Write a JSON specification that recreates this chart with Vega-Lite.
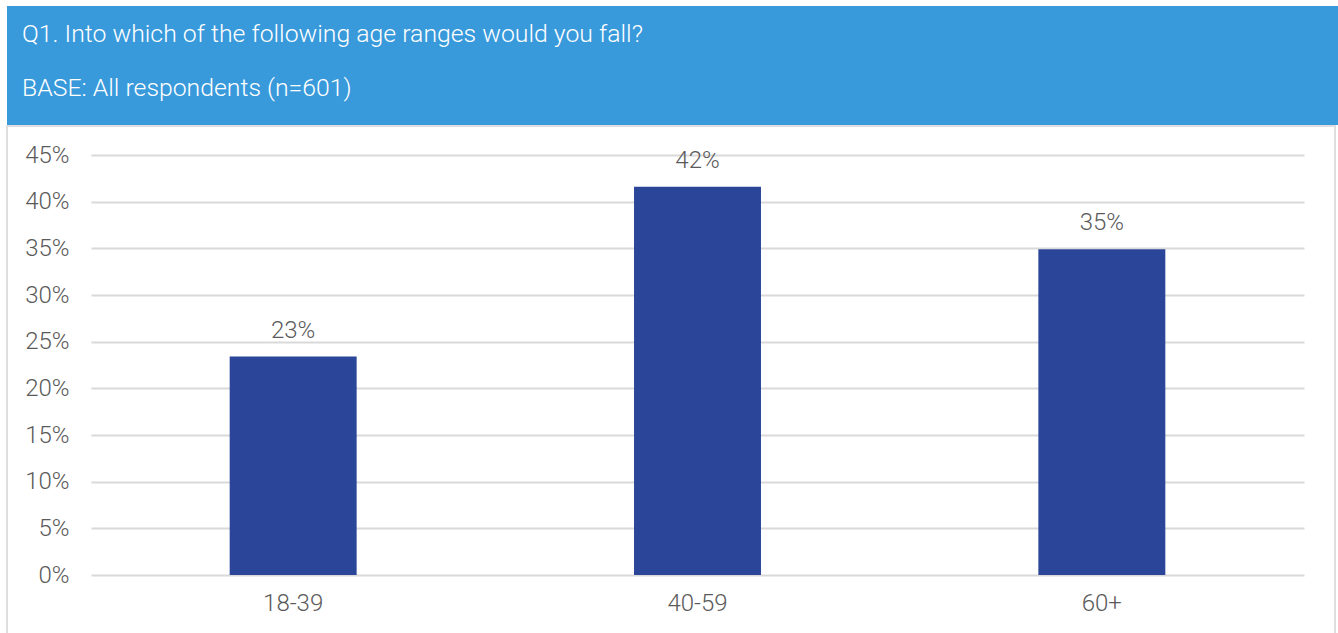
{
  "$schema": "https://vega.github.io/schema/vega-lite/v6.json",
  "background": "white",
  "padding": {"left": 6, "top": 6, "right": 0, "bottom": 0},
  "spacing": 0,
  "config": {
    "font": "Roboto",
    "view": {"stroke": null}
  },
  "vconcat": [
    {
      "width": 1332,
      "height": 119,
      "view": {"fill": "#3899DB", "stroke": null},
      "data": {"values": [
        {"line": 1, "label": "Q1. Into which of the following age ranges would you fall?"},
        {"line": 2, "label": "BASE: All respondents (n=601)"}
      ]},
      "mark": {"type": "text", "align": "left", "baseline": "alphabetic", "dx": 15, "font": "Roboto", "fontSize": 24.8, "fontWeight": 300, "color": "white"},
      "encoding": {
        "x": {"datum": 0, "type": "quantitative", "scale": {"domain": [0, 1]}, "axis": null},
        "y": {"field": "line", "type": "ordinal", "axis": null, "scale": {"type": "point", "padding": 0, "range": [36, 90]}},
        "text": {"field": "label"}
      }
    },
    {
      "width": 1328,
      "height": 508,
      "view": {"fill": "white", "stroke": "#dedede", "strokeWidth": 2},
      "data": {"values": [
        {"age": "18-39", "pct": 0.234},
        {"age": "40-59", "pct": 0.416},
        {"age": "60+", "pct": 0.349}
      ]},
      "encoding": {
        "x": {
          "field": "age", "type": "nominal", "sort": null,
          "scale": {"range": [84, 1297], "paddingInner": 0.686, "paddingOuter": 0.343},
          "axis": {"title": null, "orient": "bottom", "offset": -59, "labelAngle": 0, "domain": false, "ticks": false, "grid": false,
                   "labelFontSize": 24, "labelFontWeight": 300, "labelColor": "#5a5a5a", "labelPadding": 16, "labelFont": "Roboto"}
        },
        "y": {
          "field": "pct", "type": "quantitative",
          "scale": {"domain": [0, 0.45], "range": [449, 29]},
          "axis": {"title": null, "orient": "left", "offset": -84, "format": ".0%", "values": [0, 0.05, 0.1, 0.15, 0.2, 0.25, 0.3, 0.35, 0.4, 0.45],
                   "domain": false, "ticks": false, "grid": true, "gridColor": "#d9d9d9", "gridWidth": 2,
                   "labelFontSize": 24, "labelFontWeight": 300, "labelColor": "#5a5a5a", "labelPadding": 22, "labelFont": "Roboto"}
        }
      },
      "layer": [
        {"mark": {"type": "bar", "color": "#2B4598"}},
        {
          "mark": {"type": "text", "baseline": "alphabetic", "dy": -19, "fontSize": 24, "fontWeight": 300, "color": "#5a5a5a", "font": "Roboto"},
          "encoding": {"text": {"field": "pct", "type": "quantitative", "format": ".0%"}}
        }
      ]
    }
  ]
}
